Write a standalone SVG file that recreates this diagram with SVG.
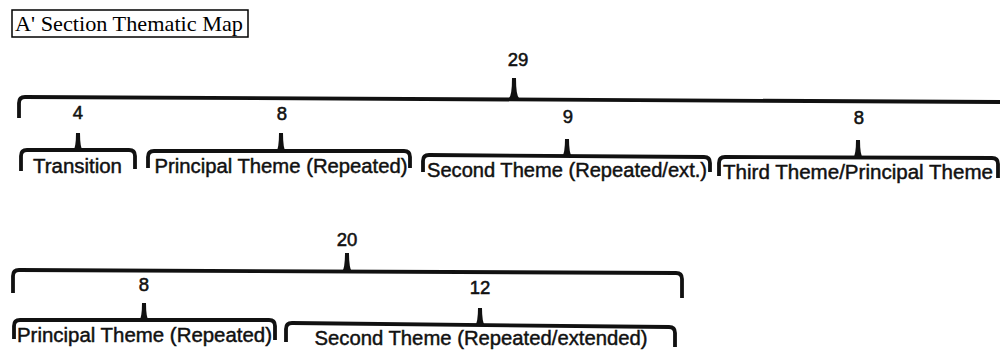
<svg xmlns="http://www.w3.org/2000/svg" width="1000" height="354" viewBox="0 0 1000 354">
<style>
.bg{fill:#fff}
.br{fill:none;stroke:#111;stroke-width:3.8;stroke-linecap:butt;stroke-linejoin:round}
.tip{fill:#111}
.lbl{font-family:"Liberation Sans",Arial,sans-serif;font-size:20px;fill:#111;stroke:#111;stroke-width:0.45;text-anchor:middle}
.num{font-family:"Liberation Sans",Arial,sans-serif;font-size:18.5px;fill:#111;stroke:#111;stroke-width:0.55;text-anchor:middle}
.ttl{font-family:"Liberation Serif","Times New Roman",serif;font-size:22px;fill:#000}
</style>
<rect class="bg" x="0" y="0" width="1000" height="354"/>
<g id="title">
<rect x="12" y="10" width="236" height="27" fill="none" stroke="#000" stroke-width="1.5"/>
<text class="ttl" x="15" y="31" textLength="228" lengthAdjust="spacingAndGlyphs">A' Section Thematic Map</text>
</g>
<g id="connectors">
<path class="br" d="M19,118 L19,103 Q19,97 25,97 L1002,102"/>
<path class="tip" d="M509,98 Q512,95 512,78 L516,78 Q516,95 519,98 Z"/>
<path class="br" d="M21,171 L21,156 Q21,150 27,150 L129,150 Q135,150 135,156 L135,169"/>
<path class="tip" d="M73,151 Q76,148 76,133 L80,133 Q80,148 83,151 Z"/>
<path class="br" d="M148,168 L148,157 Q148,151 154,151 L404,151 Q410,151 410,157 L410,168"/>
<path class="tip" d="M276,152 Q279,149 279,133 L283,133 Q283,149 286,152 Z"/>
<path class="br" d="M423,172 L423,161 Q423,155 429,155 L704,157 Q710,157 710,163 L710,172"/>
<path class="tip" d="M562,157 Q565,153 565,139 L569,139 Q569,153 572,157 Z"/>
<path class="br" d="M719,176 L719,163 Q719,157 725,157 L992,158 Q998,158 998,164 L998,178"/>
<path class="tip" d="M853,158 Q856,155 856,140 L860,140 Q860,155 863,158 Z"/>
<path class="br" d="M13,293 L13,276 Q13,270 19,270 L676,273 Q682,273 682,279 L682,298"/>
<path class="tip" d="M342,272 Q345,268 345,253 L349,253 Q349,268 352,272 Z"/>
<path class="br" d="M14,339 L14,326 Q14,320 20,320 L269,320 Q275,320 275,326 L275,340"/>
<path class="tip" d="M139,321 Q142,318 142,303 L146,303 Q146,318 149,321 Z"/>
<path class="br" d="M286,342 L286,329 Q286,323 292,323 L669,327 Q675,327 675,333 L675,347"/>
<path class="tip" d="M475,326 Q478,322 478,308 L482,308 Q482,322 485,326 Z"/>
</g>
<g id="total-29"><text class="num" x="518" y="66">29</text></g>
<g id="transition"><text class="num" x="78" y="119">4</text><text class="lbl" x="77.5" y="173" textLength="89" lengthAdjust="spacingAndGlyphs">Transition</text></g>
<g id="principal-1"><text class="num" x="282" y="120">8</text><text class="lbl" x="281" y="173" textLength="253" lengthAdjust="spacingAndGlyphs">Principal Theme (Repeated)</text></g>
<g id="second-1"><text class="num" x="568" y="123">9</text><text class="lbl" x="567" y="177" textLength="280" lengthAdjust="spacingAndGlyphs">Second Theme (Repeated/ext.)</text></g>
<g id="third"><text class="num" x="859" y="124">8</text><text class="lbl" x="858" y="179" textLength="270" lengthAdjust="spacingAndGlyphs">Third Theme/Principal Theme</text></g>
<g id="total-20"><text class="num" x="347" y="246">20</text></g>
<g id="principal-2"><text class="num" x="144" y="291">8</text><text class="lbl" x="144.5" y="342" textLength="255" lengthAdjust="spacingAndGlyphs">Principal Theme (Repeated)</text></g>
<g id="second-2"><text class="num" x="480" y="294">12</text><text class="lbl" x="481" y="345" textLength="333" lengthAdjust="spacingAndGlyphs">Second Theme (Repeated/extended)</text></g>
</svg>
